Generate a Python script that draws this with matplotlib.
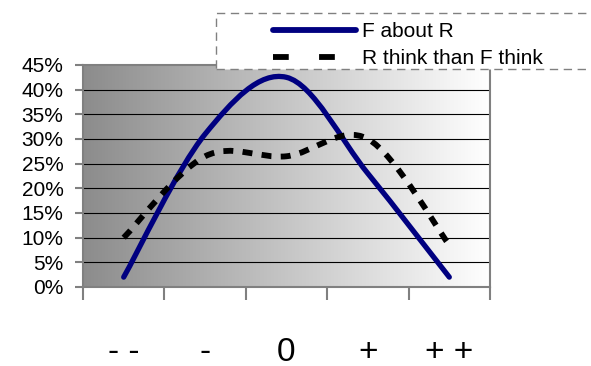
import matplotlib
matplotlib.use("Agg")
import matplotlib.pyplot as plt
import numpy as np
from matplotlib.path import Path
from matplotlib.patches import PathPatch, Rectangle
from matplotlib.lines import Line2D
from matplotlib.colors import LinearSegmentedColormap
from matplotlib.ticker import PercentFormatter

plt.rcParams['font.family'] = ['Liberation Sans', 'DejaVu Sans']

categories = ['- -', '-', '0', '+', '+ +']
f_about_r = [0.02, 0.31, 0.425, 0.23, 0.02]
r_think = [0.10, 0.265, 0.265, 0.30, 0.085]
labels = ['F about R', 'R think than F think']


def smooth_path(xs, ys):
    # Excel-like smoothed line as cubic Bezier segments
    pts = np.column_stack([xs, ys]).astype(float)
    n = len(pts)
    verts = [pts[0]]
    codes = [Path.MOVETO]
    for i in range(n - 1):
        p0 = pts[max(i - 1, 0)]
        p1 = pts[i]
        p2 = pts[i + 1]
        p3 = pts[min(i + 2, n - 1)]
        c1 = p1 + (p2 - p0) / 6.0
        c2 = p2 - (p3 - p1) / 6.0
        verts += [c1, c2, p2]
        codes += [Path.CURVE4] * 3
    return Path(verts, codes)


fig = plt.figure(figsize=(5.91, 3.66), dpi=100)
ax = fig.add_axes([83 / 591, 1 - 287 / 366, 407 / 591, 222 / 366])

x = np.arange(len(categories))

# gradient background
grad = LinearSegmentedColormap.from_list('g', ['#8c8c8c', '#ffffff'])
ax.imshow(np.linspace(0, 1, 256).reshape(1, -1), cmap=grad, extent=[0, 1, 0, 1],
          transform=ax.transAxes, aspect='auto', zorder=0)

ax.set_xlim(-0.5, len(categories) - 0.5)
ax.set_ylim(0, 0.45)

for yv in np.arange(0.05, 0.45, 0.05):
    ax.axhline(yv, color='black', lw=0.8, zorder=1)

blue = PathPatch(smooth_path(x, f_about_r), fill=False, edgecolor='#000080',
                 lw=3.8, capstyle='round', joinstyle='round', zorder=3)
ax.add_patch(blue)
black = PathPatch(smooth_path(x, r_think), fill=False, edgecolor='black',
                  lw=4.2, linestyle=(0, (1.7, 1.6)), capstyle='butt', zorder=4)
ax.add_patch(black)

# axes styling
for s in ax.spines.values():
    s.set_color('#808080')
    s.set_linewidth(1.5)

ax.set_yticks(np.arange(0, 0.451, 0.05))
ax.yaxis.set_major_formatter(PercentFormatter(1.0, decimals=0))
ax.tick_params(axis='y', length=6, width=1.5, color='#808080', pad=8, labelsize=15)

ax.set_xticks(np.arange(-0.5, len(categories), 1.0))
ax.set_xticklabels([])
ax.tick_params(axis='x', which='major', length=9, width=1.5, color='#808080')
ax.set_xticks(x, minor=True)
ax.set_xticklabels(categories, minor=True)
ax.tick_params(axis='x', which='minor', length=0, pad=36, labelsize=24)

# legend box
box = Rectangle((216 / 591, 1 - 69 / 366), 400 / 591, 56 / 366, transform=fig.transFigure,
                facecolor='white', edgecolor='#808080', lw=1, linestyle=(0, (6, 4)),
                clip_on=False, zorder=1)
fig.add_artist(box)

handles = [Line2D([], [], color='#000080', lw=4.2, solid_capstyle='round'),
           Line2D([], [], color='black', lw=4.2, linestyle=(0, (2.7, 5.2)))]
leg = fig.legend(handles, labels, loc='upper left', bbox_to_anchor=(273 / 591, 1 - 22 / 366),
                 frameon=False, fontsize=15, handlelength=4.0, handletextpad=0.25,
                 labelspacing=0.4, borderpad=0, borderaxespad=0)
leg.set_zorder(5)

fig.savefig('out.png', dpi=100)
